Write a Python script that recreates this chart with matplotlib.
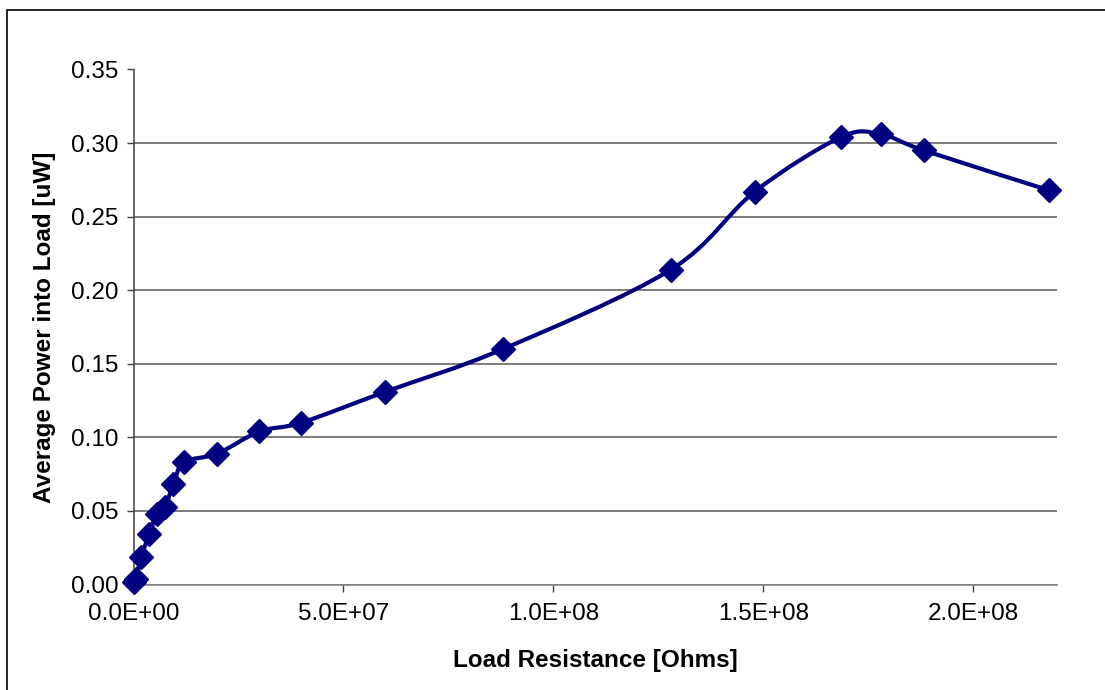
import matplotlib
matplotlib.use("Agg")
import matplotlib.pyplot as plt
from matplotlib.path import Path
from matplotlib.patches import PathPatch, Rectangle
from matplotlib.ticker import FuncFormatter, MultipleLocator

# Measured load sweep
resistance_ohms = [1.0e5, 5.0e5, 1.9e6, 3.7e6, 5.6e6, 7.5e6, 9.5e6, 1.2e7, 2.0e7,
                   3.0e7, 4.0e7, 6.0e7, 8.8e7, 1.28e8, 1.48e8, 1.685e8, 1.78e8,
                   1.883e8, 2.18e8]
power_uw = [0.002, 0.004, 0.019, 0.034, 0.048, 0.053, 0.068, 0.083, 0.089,
            0.104, 0.110, 0.131, 0.160, 0.214, 0.267, 0.304, 0.306,
            0.295, 0.268]

x_label = "Load Resistance [Ohms]"
y_label = "Average Power into Load [uW]"

W, H = 1105, 690
plt.rcParams["font.family"] = ["Liberation Sans", "DejaVu Sans"]

fig = plt.figure(figsize=(W / 100, H / 100), dpi=100)
left, right, top, bottom = 133.5, 1057, 69.5, 584.5
ax = fig.add_axes([left / W, 1 - bottom / H, (right - left) / W, (bottom - top) / H])

# outer chart frame
fig.add_artist(Rectangle((7 / W, -0.02), 1.05, 1 - 10 / H + 0.02,
                         transform=fig.transFigure, fill=False,
                         edgecolor="black", lw=1.2))


def smooth_path(xs, ys):
    """Cardinal-spline (Catmull-Rom) Bezier path through the points."""
    pts = list(zip(xs, ys))
    n = len(pts)
    verts = [pts[0]]
    codes = [Path.MOVETO]
    for i in range(n - 1):
        p0 = pts[i - 1] if i > 0 else pts[i]
        p1 = pts[i]
        p2 = pts[i + 1]
        p3 = pts[i + 2] if i + 2 < n else pts[i + 1]
        c1 = (p1[0] + (p2[0] - p0[0]) / 6, p1[1] + (p2[1] - p0[1]) / 6)
        c2 = (p2[0] - (p3[0] - p1[0]) / 6, p2[1] - (p3[1] - p1[1]) / 6)
        verts += [c1, c2, p2]
        codes += [Path.CURVE4] * 3
    return Path(verts, codes)


navy = "#000080"
ax.add_patch(PathPatch(smooth_path(resistance_ohms, power_uw), fill=False,
                       edgecolor=navy, lw=3.0, capstyle="round",
                       joinstyle="round", clip_on=False, zorder=3))
ax.plot(resistance_ohms, power_uw, linestyle="none", marker="D", ms=12,
        color=navy, mec=navy, clip_on=False, zorder=4)

ax.set_xlim(0, 2.2e8)
ax.set_ylim(0, 0.35)
ax.xaxis.set_major_locator(MultipleLocator(5e7))
ax.yaxis.set_major_locator(MultipleLocator(0.05))
ax.xaxis.set_major_formatter(FuncFormatter(lambda v, p: f"{v:.1E}"))
ax.yaxis.set_major_formatter(FuncFormatter(lambda v, p: f"{v:.2f}"))

ax.grid(axis="y", color="#5a5a5a", lw=1.1)
ax.set_axisbelow(True)
for s in ("top", "right"):
    ax.spines[s].set_visible(False)
ax.spines["left"].set_color("#404040")
ax.spines["bottom"].set_color("#808080")
ax.spines["left"].set_linewidth(1.1)
ax.spines["bottom"].set_linewidth(1.1)

ax.tick_params(axis="both", labelsize=17.5, colors="#404040", labelcolor="black",
               direction="out", length=5, width=1)
ax.tick_params(axis="x", pad=8)
ax.tick_params(axis="y", pad=6)

ax.set_xlabel(x_label, fontsize=17.5, fontweight="bold")
ax.set_ylabel(y_label, fontsize=17.5, fontweight="bold")
ax.xaxis.label.set_va("center")
ax.yaxis.label.set_va("center")
ax.xaxis.set_label_coords(0.5, (bottom - 660) / (bottom - top))
ax.yaxis.set_label_coords((45 - left) / (right - left), 0.5)

fig.savefig("out.png", dpi=100, facecolor="white")
